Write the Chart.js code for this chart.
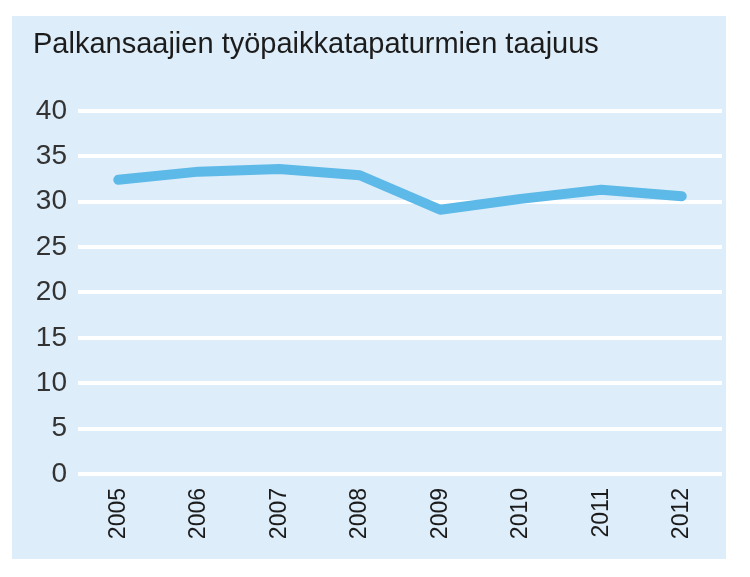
<!DOCTYPE html>
<html>
<head>
<meta charset="utf-8">
<script src="https://cdn.jsdelivr.net/npm/chart.js@4"></script>
<style>
    html, body { margin: 0; padding: 0; background: #fff; }
    #wrap { width: 750px; height: 577px; }
</style>
</head>
<body>
<div id="wrap"><canvas id="accidentChart" width="750" height="577"></canvas></div>
<script>
// ------------------- Data -------------------
const years = ['2005', '2006', '2007', '2008', '2009', '2010', '2011', '2012'];
const frequency = [32.4, 33.3, 33.6, 32.9, 29.1, 30.3, 31.3, 30.6];
const yTicks = [0, 5, 10, 15, 20, 25, 30, 35, 40];

// ------------------- Panel background -------------------
const panelBackground = {
    id: 'panelBackground',
    beforeDraw(chart) {
        const ctx = chart.ctx;
        ctx.save();
        ctx.fillStyle = '#ddedf9';
        ctx.fillRect(12, 16, 714, 543);
        ctx.restore();
    }
};

// ------------------- Chart -------------------
const ctx = document.getElementById('accidentChart');
new Chart(ctx.getContext('2d'), {
    type: 'line',
    data: {
        labels: years,
        datasets: [{
            label: 'Taajuus',
            data: frequency,
            borderColor: '#5db9e7',
            borderWidth: 10,
            borderCapStyle: 'round',
            borderJoinStyle: 'round',
            pointRadius: 0,
            tension: 0,
            fill: false
        }]
    },
    options: {
        responsive: false,
        animation: false,
        layout: { padding: { left: 33, right: 28, top: 0, bottom: 0 } },
        plugins: {
            legend: { display: false },
            tooltip: { enabled: false },
            title: {
                display: true,
                text: 'Palkansaajien työpaikkatapaturmien taajuus',
                align: 'start',
                color: '#1c1c1c',
                font: { family: 'Liberation Sans', size: 29, weight: 'normal', lineHeight: 1.2 },
                padding: { top: 28, bottom: 48 }
            }
        },
        scales: {
            x: {
                offset: true,
                grid: { display: false, drawTicks: false },
                border: { display: false },
                ticks: {
                    minRotation: 90,
                    maxRotation: 90,
                    padding: 14,
                    color: '#1c1c1c',
                    font: { family: 'Liberation Sans', size: 23 }
                },
                afterFit(scale) { scale.height = 103; }
            },
            y: {
                min: 0,
                max: 40,
                afterBuildTicks(scale) { scale.ticks = yTicks.map(v => ({ value: v })); },
                grid: { color: '#ffffff', lineWidth: 4, drawTicks: false },
                border: { display: false },
                ticks: {
                    padding: 11,
                    color: '#333333',
                    font: { family: 'Liberation Sans', size: 28 }
                },
                afterFit(scale) { scale.width = 45; }
            }
        }
    },
    plugins: [panelBackground]
});
</script>
</body>
</html>
